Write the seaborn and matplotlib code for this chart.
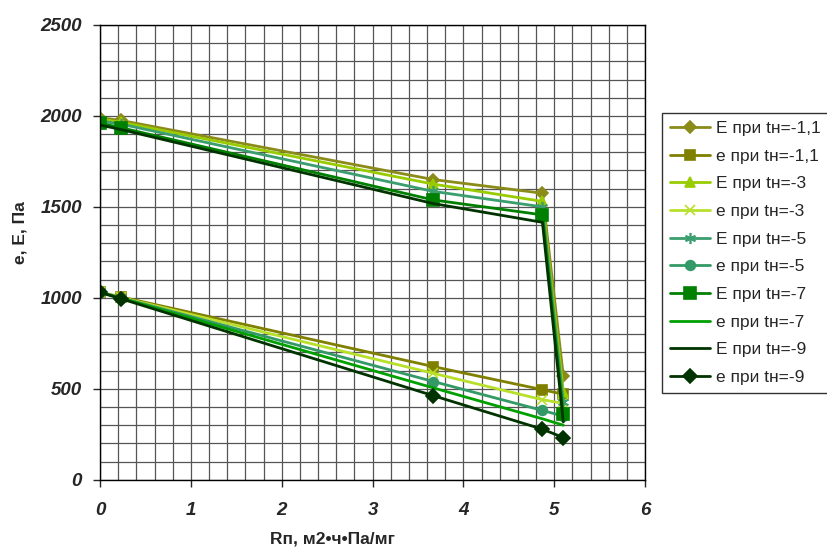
import pandas as pd
import matplotlib
matplotlib.use("Agg")
import matplotlib.pyplot as plt
import seaborn as sns
from matplotlib.ticker import MultipleLocator

# Rп coordinates of the layer boundaries
rp = [0, 0.23, 3.67, 4.87, 5.1]

# Saturation (E) and partial (e) vapour pressure, Pa
E_11 = [1990, 1975, 1650, 1575, 570]
e_11 = [1030, 1005, 622, 495, 470]
E_3 = [1982, 1965, 1625, 1530, 485]
e_3 = [1030, 1002, 585, 440, 420]
E_5 = [1972, 1955, 1585, 1500, 425]
e_5 = [1030, 1000, 540, 381, 350]
E_7 = [1960, 1935, 1538, 1456, 360]
e_7 = [1030, 998, 505, 335, 300]
E_9 = [1950, 1925, 1518, 1415, 318]
e_9 = [1030, 995, 462, 278, 232]

labels = ["E при tн=-1,1", "e при tн=-1,1", "E при tн=-3", "e при tн=-3",
          "E при tн=-5", "e при tн=-5", "E при tн=-7", "e при tн=-7",
          "E при tн=-9", "e при tн=-9"]
values = [E_11, e_11, E_3, e_3, E_5, e_5, E_7, e_7, E_9, e_9]

colors = ["#8B8B1A", "#808000", "#99CC00", "#B8E02A", "#3A9E6E",
          "#339966", "#008000", "#00A000", "#003300", "#003300"]
markers = ["D", "s", "^", "x", (6, 2, 0), "o", "s", None, None, "D"]
msizes = [6, 7, 7, 7, 8, 7, 9, 0, 0, 7]

sns.set_style("white")
plt.rcParams["font.family"] = ["Liberation Sans", "DejaVu Sans"]

fig = plt.figure(figsize=(8.27, 5.54), dpi=100)
ax = fig.add_axes([0.121, 0.134, 0.659, 0.821])

for lab, vals, c, m, ms in zip(labels, values, colors, markers, msizes):
    df = pd.DataFrame({"Rp": rp, "p": vals})
    sns.lineplot(data=df, x="Rp", y="p", ax=ax, color=c, marker=m,
                 markersize=ms, markeredgecolor=c, markeredgewidth=1.2,
                 linewidth=2.0, label=lab, sort=False)

ax.set_xlim(0, 6)
ax.set_ylim(0, 2500)
ax.xaxis.set_major_locator(MultipleLocator(1))
ax.xaxis.set_minor_locator(MultipleLocator(0.2))
ax.yaxis.set_major_locator(MultipleLocator(500))
ax.yaxis.set_minor_locator(MultipleLocator(100))
ax.grid(which="both", color="#555555", linewidth=0.9)
ax.set_axisbelow(True)
ax.tick_params(axis="y", which="major", direction="out", length=5, width=1,
               left=True, pad=8)
ax.tick_params(axis="x", which="major", direction="out", length=5, width=1,
               bottom=True, pad=11)
ax.tick_params(which="minor", length=0)
for lbl in ax.get_xticklabels() + ax.get_yticklabels():
    lbl.set_fontweight("bold")
    lbl.set_fontstyle("italic")
    lbl.set_fontsize(13.5)
for s in ax.spines.values():
    s.set_color("black")
    s.set_linewidth(1)

ax.set_xlabel("Rп, м2•ч•Па/мг", fontsize=12.5, fontweight="bold")
ax.set_ylabel("e, E, Па", fontsize=12.5, fontweight="bold")
ax.xaxis.set_label_coords((332 - 100) / 545, (480 - 532) / 455)
ax.yaxis.set_label_coords((27 - 100) / 545, (480 - 233) / 455)

leg = ax.legend(loc="center left", bbox_to_anchor=(662 / 827, 1 - 253 / 554),
                bbox_transform=fig.transFigure, frameon=True, fancybox=False,
                edgecolor="black", fontsize=12.5, labelspacing=0.72,
                handlelength=2.3, handletextpad=0.35, borderpad=0.45,
                borderaxespad=0)
leg.get_frame().set_linewidth(1)

plt.savefig("out.png", dpi=100)
